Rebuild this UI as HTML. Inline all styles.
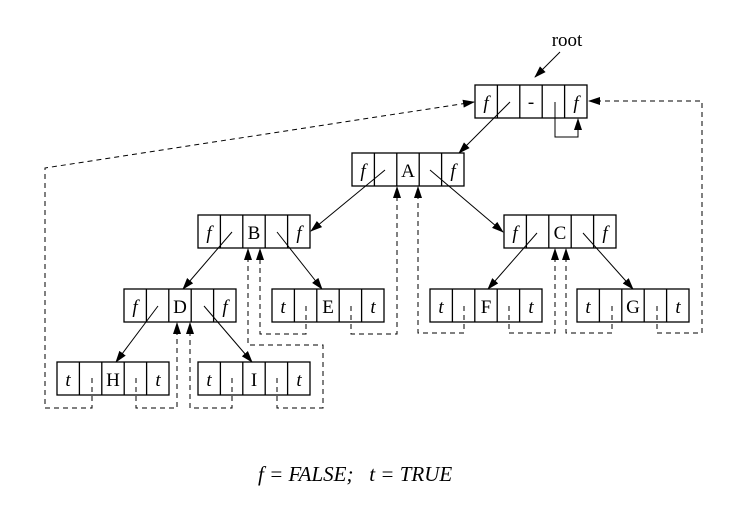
<!DOCTYPE html>
<html><head><meta charset="utf-8"><style>
html,body{margin:0;padding:0;background:#fff}
svg{display:block}
text{font-family:"Liberation Serif",serif;font-size:19px;fill:#000}
.i{font-style:italic}
</style></head><body>
<svg width="733" height="507" viewBox="0 0 733 507" xmlns="http://www.w3.org/2000/svg">
<defs>
<marker id="a" markerWidth="12" markerHeight="8" refX="11" refY="4" orient="auto" markerUnits="userSpaceOnUse">
<path d="M0,0 L12,4 L0,8 z" fill="#000"/></marker>
</defs>
<g fill="none" stroke="#000" stroke-width="1.3">
<rect x="475" y="85" width="112" height="33"/><path d="M497.4,85v33M519.8,85v33M542.2,85v33M564.6,85v33"/>
<rect x="352" y="153" width="112" height="33"/><path d="M374.4,153v33M396.8,153v33M419.2,153v33M441.6,153v33"/>
<rect x="198" y="215" width="112" height="33"/><path d="M220.4,215v33M242.8,215v33M265.2,215v33M287.6,215v33"/>
<rect x="504" y="215" width="112" height="33"/><path d="M526.4,215v33M548.8,215v33M571.2,215v33M593.6,215v33"/>
<rect x="124" y="289" width="112" height="33"/><path d="M146.4,289v33M168.8,289v33M191.2,289v33M213.6,289v33"/>
<rect x="272" y="289" width="112" height="33"/><path d="M294.4,289v33M316.8,289v33M339.2,289v33M361.6,289v33"/>
<rect x="430" y="289" width="112" height="33"/><path d="M452.4,289v33M474.8,289v33M497.2,289v33M519.6,289v33"/>
<rect x="577" y="289" width="112" height="33"/><path d="M599.4,289v33M621.8,289v33M644.2,289v33M666.6,289v33"/>
<rect x="57" y="362" width="112" height="33"/><path d="M79.4,362v33M101.8,362v33M124.2,362v33M146.6,362v33"/>
<rect x="198" y="362" width="112" height="33"/><path d="M220.4,362v33M242.8,362v33M265.2,362v33M287.6,362v33"/>
</g>
<g fill="none" stroke="#000" stroke-width="1">
<line x1="560" y1="52" x2="535" y2="77" marker-end="url(#a)"/>
<line x1="510" y1="102" x2="459" y2="153" marker-end="url(#a)"/>
<line x1="385" y1="170" x2="311" y2="231" marker-end="url(#a)"/>
<line x1="430" y1="170" x2="503" y2="232" marker-end="url(#a)"/>
<line x1="232" y1="232" x2="183" y2="289" marker-end="url(#a)"/>
<line x1="277" y1="232" x2="322" y2="289" marker-end="url(#a)"/>
<line x1="537" y1="233" x2="488" y2="289" marker-end="url(#a)"/>
<line x1="583" y1="233" x2="633" y2="289" marker-end="url(#a)"/>
<line x1="158" y1="306" x2="116" y2="362" marker-end="url(#a)"/>
<line x1="204" y1="306" x2="252" y2="362" marker-end="url(#a)"/>
<polyline points="555,102 555,137 578,137 578,119" marker-end="url(#a)"/>
</g>
<g fill="none" stroke="#000" stroke-width="1" stroke-dasharray="5,4">
<polyline points="92,378 92,408 45,408 45,168 474,102" marker-end="url(#a)"/>
<polyline points="136,378 136,408 177,408 177,323" marker-end="url(#a)"/>
<polyline points="232,378 232,408 190,408 190,323" marker-end="url(#a)"/>
<polyline points="277,378 277,408 323,408 323,345 248,345 248,249" marker-end="url(#a)"/>
<polyline points="306,306 306,334 260,334 260,249" marker-end="url(#a)"/>
<polyline points="351,306 351,334 397,334 397,187" marker-end="url(#a)"/>
<polyline points="464,306 464,333 418,333 418,187" marker-end="url(#a)"/>
<polyline points="509,306 509,333 555,333 555,249" marker-end="url(#a)"/>
<polyline points="612,306 612,333 566,333 566,249" marker-end="url(#a)"/>
<polyline points="657,306 657,333 702,333 702,101 589,101" marker-end="url(#a)"/>
</g>
<g text-anchor="middle">
<text x="567" y="46">root</text>
<text x="486" y="109" class="i">f</text><text x="531" y="108">-</text><text x="576" y="109" class="i">f</text>
<text x="363" y="177" class="i">f</text><text x="408" y="177">A</text><text x="453" y="177" class="i">f</text>
<text x="209" y="239" class="i">f</text><text x="254" y="239">B</text><text x="299" y="239" class="i">f</text>
<text x="515" y="239" class="i">f</text><text x="560" y="239">C</text><text x="605" y="239" class="i">f</text>
<text x="135" y="313" class="i">f</text><text x="180" y="313">D</text><text x="225" y="313" class="i">f</text>
<text x="283" y="313" class="i">t</text><text x="328" y="313">E</text><text x="373" y="313" class="i">t</text>
<text x="441" y="313" class="i">t</text><text x="486" y="313">F</text><text x="531" y="313" class="i">t</text>
<text x="588" y="313" class="i">t</text><text x="633" y="313">G</text><text x="678" y="313" class="i">t</text>
<text x="68" y="386" class="i">t</text><text x="113" y="386">H</text><text x="158" y="386" class="i">t</text>
<text x="209" y="386" class="i">t</text><text x="254" y="386">I</text><text x="299" y="386" class="i">t</text>
</g>
<text x="258" y="481" class="i" style="font-size:21px;white-space:pre" xml:space="preserve">f = FALSE;   t = TRUE</text>
</svg>
</body></html>
